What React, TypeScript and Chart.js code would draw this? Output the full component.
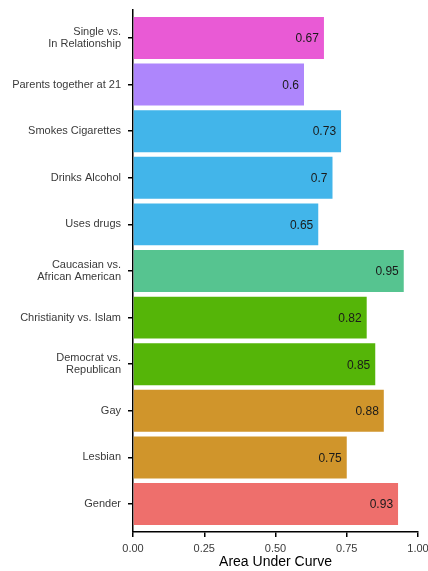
import React, { useEffect, useRef } from "react";
import { Chart, registerables } from "chart.js";

Chart.register(...registerables);

const categories: string[][] = [
  ["Single vs.", "In Relationship"],
  ["Parents together at 21"],
  ["Smokes Cigarettes"],
  ["Drinks Alcohol"],
  ["Uses drugs"],
  ["Caucasian vs.", "African American"],
  ["Christianity vs. Islam"],
  ["Democrat vs.", "Republican"],
  ["Gay"],
  ["Lesbian"],
  ["Gender"],
];
const aucValues: number[] = [0.67, 0.6, 0.73, 0.7, 0.65, 0.95, 0.82, 0.85, 0.88, 0.75, 0.93];
const barColors: string[] = [
  "#E95AD5", "#AE86FC", "#42B5EA", "#42B5EA", "#42B5EA",
  "#56C490", "#55B508", "#55B508", "#D0952B", "#D0952B", "#EE6F6C",
];
const xTicks: number[] = [0, 0.25, 0.5, 0.75, 1];

const valueLabels = {
  id: "valueLabels",
  afterDatasetsDraw(chart: any) {
    const ctx = chart.ctx;
    const meta = chart.getDatasetMeta(0);
    ctx.save();
    ctx.font = "12px 'Liberation Sans', Arial, sans-serif";
    ctx.fillStyle = "#1a1a1a";
    ctx.textAlign = "right";
    ctx.textBaseline = "middle";
    meta.data.forEach((bar: any, i: number) => {
      ctx.fillText(String(aucValues[i]), bar.x - 5, bar.y + 1);
    });
    ctx.restore();
  },
};

export default function App() {
  const ref = useRef<HTMLCanvasElement | null>(null);
  useEffect(() => {
    if (!ref.current) return;
    const chart = new Chart(ref.current, {
      type: "bar",
      data: {
        datasets: [
          {
            data: aucValues.map((v, i) => ({ x: v, y: i })),
            backgroundColor: barColors,
            borderWidth: 0,
            barPercentage: 0.9,
            categoryPercentage: 1,
          },
        ],
      },
      options: {
        indexAxis: "y",
        animation: false,
        responsive: false,
        maintainAspectRatio: false,
        layout: { padding: { top: 10, right: 10, bottom: 0, left: 0 } },
        plugins: { legend: { display: false }, tooltip: { enabled: false } },
        scales: {
          y: {
            type: "linear",
            min: -0.6,
            max: 10.6,
            reverse: true,
            offset: false,
            afterBuildTicks: (scale: any) => {
              scale.ticks = categories.map((_, i) => ({ value: i }));
            },
            afterFit: (scale: any) => {
              scale.width = 133;
              scale.paddingTop = 0;
              scale.paddingBottom = 0;
            },
            ticks: {
              autoSkip: false,
              padding: 7,
              color: "#3a3a3a",
              font: { family: "'Liberation Sans', Arial, sans-serif", size: 11, lineHeight: 1.1 },
              callback: (v: any) => categories[Math.round(Number(v))] ?? "",
            },
            grid: {
              display: true,
              offset: false,
              drawOnChartArea: false,
              drawTicks: true,
              tickLength: 5,
              color: "#000",
              lineWidth: 1.5,
            },
            border: { display: true, color: "#000", width: 1.5 },
          },
          x: {
            type: "linear",
            min: 0,
            max: 1,
            afterBuildTicks: (scale: any) => {
              scale.ticks = xTicks.map((v) => ({ value: v }));
            },
            afterFit: (scale: any) => {
              scale.height = 39;
              scale.paddingLeft = 0;
              scale.paddingRight = 0;
            },
            ticks: {
              padding: 5,
              color: "#3a3a3a",
              maxRotation: 0,
              font: { family: "'Liberation Sans', Arial, sans-serif", size: 11 },
              callback: (v: any) => Number(v).toFixed(2),
            },
            grid: {
              display: true,
              drawOnChartArea: false,
              drawTicks: true,
              tickLength: 5,
              color: "#000",
              lineWidth: 1.5,
            },
            border: { display: true, color: "#000", width: 1.5 },
            title: {
              display: true,
              text: "Area Under Curve",
              color: "#000",
              padding: { top: 0, bottom: 0 },
              font: { family: "'Liberation Sans', Arial, sans-serif", size: 14 },
            },
          },
        },
      },
      plugins: [valueLabels],
    } as any);
    return () => chart.destroy();
  }, []);
  return (
    <div style={{ position: "fixed", left: 0, top: 0, width: 428, height: 571, background: "#fff" }}>
      <canvas ref={ref} width={428} height={571} style={{ width: 428, height: 571 }} />
    </div>
  );
}
